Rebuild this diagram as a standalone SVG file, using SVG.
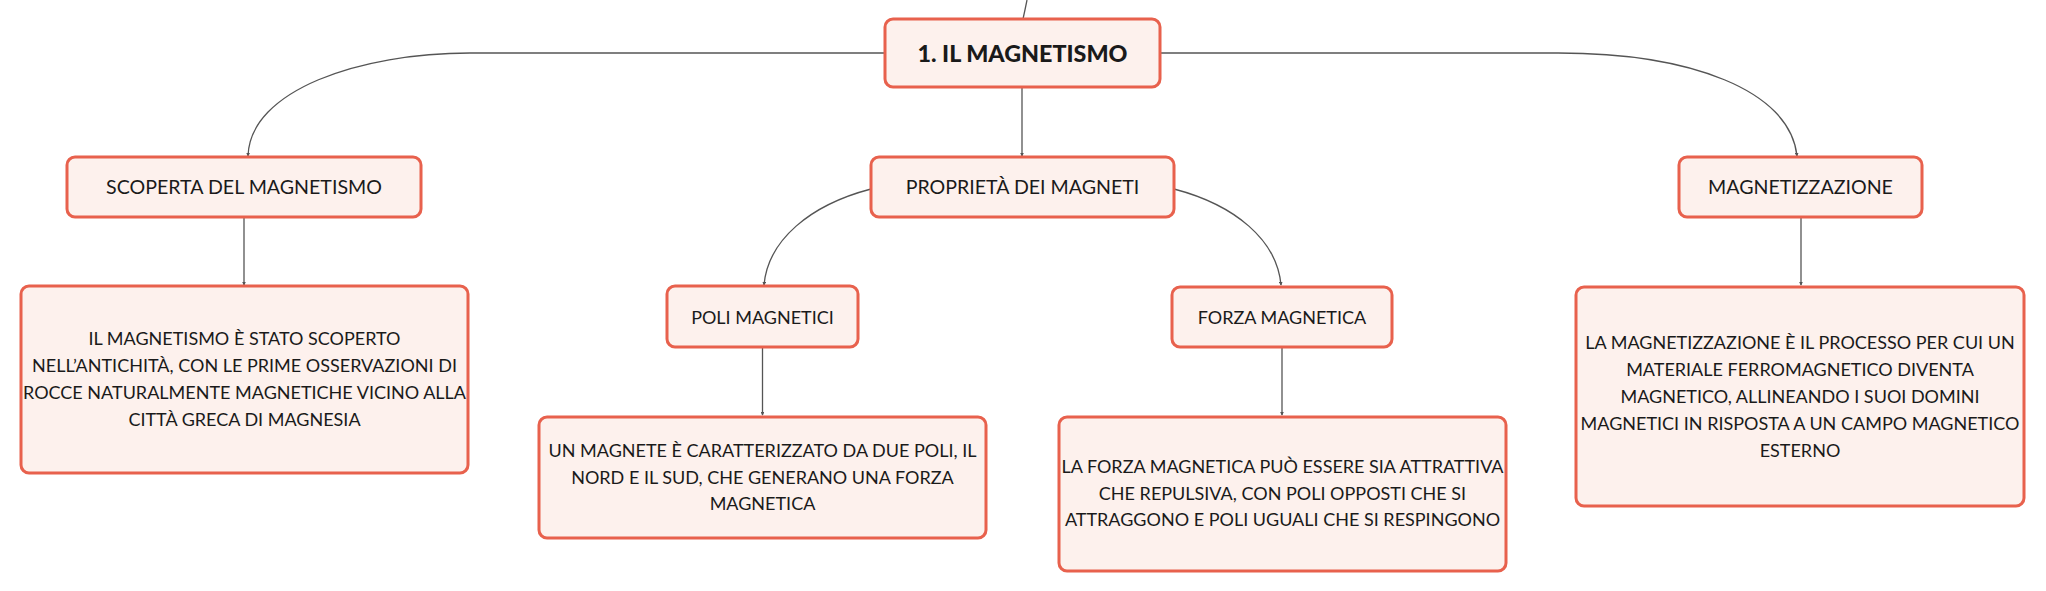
<svg xmlns="http://www.w3.org/2000/svg" width="2046" height="591" viewBox="0 0 2046 591">
<defs>
<marker id="arr" viewBox="0 0 6 6" refX="5" refY="3" markerWidth="3" markerHeight="3" orient="auto">
<path d="M0,0 L6,3 L0,6 z" fill="#555"/>
</marker>
<style>
.box{fill:#fdf1ed;stroke:#e8614d;stroke-width:3}
.t{font-family:Lato,"Open Sans","Liberation Sans",sans-serif;font-size:18px;fill:#1a1a1a;text-anchor:middle}
.lbl{font-size:19.6px}
.root{font-size:23.3px;font-weight:900}
.c{fill:none;stroke:#555;stroke-width:1.3}
</style>
</defs>
<rect width="2046" height="591" fill="#fff"/>
<g id="connectors">
<path class="c" d="M1027,0 Q1025,10 1023,19"/>
<path class="c" d="M885,53 H470 C360,53 250,90 248,156" marker-end="url(#arr)"/>
<path class="c" d="M1159,53 H1558 C1690,53 1790,90 1797,156" marker-end="url(#arr)"/>
<path class="c" d="M1022,88 V156" marker-end="url(#arr)"/>
<path class="c" d="M871,189 C810,205 768,240 764,285" marker-end="url(#arr)"/>
<path class="c" d="M1174,189 C1235,205 1277,240 1281,285" marker-end="url(#arr)"/>
<path class="c" d="M244,217 V285" marker-end="url(#arr)"/>
<path class="c" d="M762.5,347 V415" marker-end="url(#arr)"/>
<path class="c" d="M1282,347 V415" marker-end="url(#arr)"/>
<path class="c" d="M1801,217 V285" marker-end="url(#arr)"/>
</g>
<g id="n-root">
<rect class="box" x="885" y="19" width="275" height="68" rx="8"/>
<text class="t root" x="1022.5" y="61.5">1. IL MAGNETISMO</text>
</g>
<g id="n-scoperta">
<rect class="box" x="67" y="157" width="354" height="60" rx="8"/>
<text class="t lbl" x="244" y="194">SCOPERTA DEL MAGNETISMO</text>
</g>
<g id="n-proprieta">
<rect class="box" x="871" y="157" width="303" height="60" rx="8"/>
<text class="t lbl" x="1022.5" y="194">PROPRIETÀ DEI MAGNETI</text>
</g>
<g id="n-magnetizzazione">
<rect class="box" x="1679" y="157" width="243" height="60" rx="8"/>
<text class="t lbl" x="1800.5" y="194">MAGNETIZZAZIONE</text>
</g>
<g id="n-scoperta-desc">
<rect class="box" x="21" y="286" width="447" height="187" rx="8"/>
<text class="t" x="244.5" y="344.5">IL MAGNETISMO È STATO SCOPERTO</text>
<text class="t" x="244.5" y="371.5">NELL’ANTICHITÀ, CON LE PRIME OSSERVAZIONI DI</text>
<text class="t" x="244.5" y="398.5">ROCCE NATURALMENTE MAGNETICHE VICINO ALLA</text>
<text class="t" x="244.5" y="425.5">CITTÀ GRECA DI MAGNESIA</text>
</g>
<g id="n-poli">
<rect class="box" x="667" y="286" width="191" height="61" rx="8"/>
<text class="t" x="762.5" y="323.5">POLI MAGNETICI</text>
</g>
<g id="n-forza">
<rect class="box" x="1172" y="287" width="220" height="60" rx="8"/>
<text class="t" x="1282" y="323.5">FORZA MAGNETICA</text>
</g>
<g id="n-poli-desc">
<rect class="box" x="539" y="417" width="447" height="121" rx="8"/>
<text class="t" x="762.5" y="456.5">UN MAGNETE È CARATTERIZZATO DA DUE POLI, IL</text>
<text class="t" x="762.5" y="483.5">NORD E IL SUD, CHE GENERANO UNA FORZA</text>
<text class="t" x="762.5" y="510">MAGNETICA</text>
</g>
<g id="n-forza-desc">
<rect class="box" x="1059" y="417" width="447" height="154" rx="8"/>
<text class="t" x="1282.5" y="472.5">LA FORZA MAGNETICA PUÒ ESSERE SIA ATTRATTIVA</text>
<text class="t" x="1282.5" y="499.5">CHE REPULSIVA, CON POLI OPPOSTI CHE SI</text>
<text class="t" x="1282.5" y="525.5">ATTRAGGONO E POLI UGUALI CHE SI RESPINGONO</text>
</g>
<g id="n-magnetizzazione-desc">
<rect class="box" x="1576" y="287" width="448" height="219" rx="8"/>
<text class="t" x="1800" y="348.5">LA MAGNETIZZAZIONE È IL PROCESSO PER CUI UN</text>
<text class="t" x="1800" y="375.5">MATERIALE FERROMAGNETICO DIVENTA</text>
<text class="t" x="1800" y="402.5">MAGNETICO, ALLINEANDO I SUOI DOMINI</text>
<text class="t" x="1800" y="429.5">MAGNETICI IN RISPOSTA A UN CAMPO MAGNETICO</text>
<text class="t" x="1800" y="456.5">ESTERNO</text>
</g>
</svg>
